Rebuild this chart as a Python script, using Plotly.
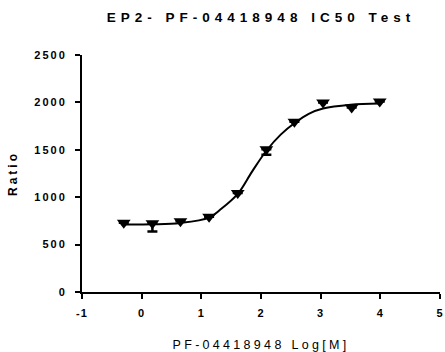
import plotly.graph_objects as go

# Data
log_conc = [-0.30, 0.18, 0.65, 1.13, 1.61, 2.09, 2.56, 3.04, 3.52, 3.99]
ratio = [730, 725, 745, 795, 1045, 1505, 1795, 2000, 1945, 2010]
ratio_err_minus = [0, 88, 0, 0, 0, 58, 0, 0, 0, 0]
ratio_err_plus = [0, 0, 0, 0, 0, 0, 0, 0, 0, 0]

# Fitted curve
fit_x = [-0.30, 0.18, 0.65, 1.13, 1.31, 1.61, 1.85, 2.09, 2.33, 2.58, 2.80, 3.04, 3.50, 3.99]
fit_y = [712, 714, 728, 785, 865, 1035, 1270, 1490, 1660, 1790, 1880, 1935, 1975, 1988]

x_ticks = [-1, 0, 1, 2, 3, 4, 5]
y_ticks = [0, 500, 1000, 1500, 2000, 2500]

FONT = "Liberation Sans, Arial, sans-serif"


def sp(text, px, bold=False):
    t = f'<span style="letter-spacing:{px}px">{text}</span>'
    return f"<b>{t}</b>" if bold else t


fig = go.Figure()
fig.add_trace(go.Scatter(
    x=fit_x, y=fit_y, mode="lines", line=dict(color="black", width=2, shape="spline", smoothing=1.0),
    hoverinfo="skip", showlegend=False))
fig.add_trace(go.Scatter(
    x=log_conc, y=ratio, mode="markers",
    marker=dict(symbol="triangle-down", size=12, color="black"),
    error_y=dict(type="data", symmetric=False, array=ratio_err_plus, arrayminus=ratio_err_minus,
                 color="black", thickness=2.5, width=5),
    showlegend=False))

fig.update_layout(
    width=445, height=352,
    margin=dict(l=82, r=5, t=55, b=60),
    paper_bgcolor="white", plot_bgcolor="white",
    font=dict(family=FONT, color="black"),
    title=dict(text=sp("EP2- PF-04418948 IC50 Test", 5, True), x=0.5, xref="paper",
               y=0.95, yref="container", yanchor="middle",
               font=dict(size=13.5, family=FONT, color="black")),
    xaxis=dict(range=[-1, 5], tickvals=x_ticks, ticktext=[sp(str(v), 1, True) for v in x_ticks],
               showline=True, linecolor="black", linewidth=2, ticks="outside", ticklen=5,
               tickwidth=2, tickcolor="black", showgrid=False, zeroline=False, automargin=False,
               tickfont=dict(size=11, family=FONT), ticklabelstandoff=5,
               title=dict(text=sp("PF-04418948 Log[M]", 3.3), font=dict(size=12.5, family=FONT), standoff=22)),
    yaxis=dict(range=[0, 2500], tickvals=y_ticks, ticktext=[sp(str(v), 2.0, True) for v in y_ticks],
               showline=True, linecolor="black", linewidth=2, ticks="outside", ticklen=5,
               tickwidth=2, tickcolor="black", showgrid=False, zeroline=False, automargin=False,
               tickfont=dict(size=11, family=FONT), ticklabelstandoff=6,
               title=dict(text=sp("Ratio", 3, True), font=dict(size=12, family=FONT), standoff=14)),
)

fig.write_html("out.html", config={"displayModeBar": False},
               post_script="document.body.style.margin='0';")
